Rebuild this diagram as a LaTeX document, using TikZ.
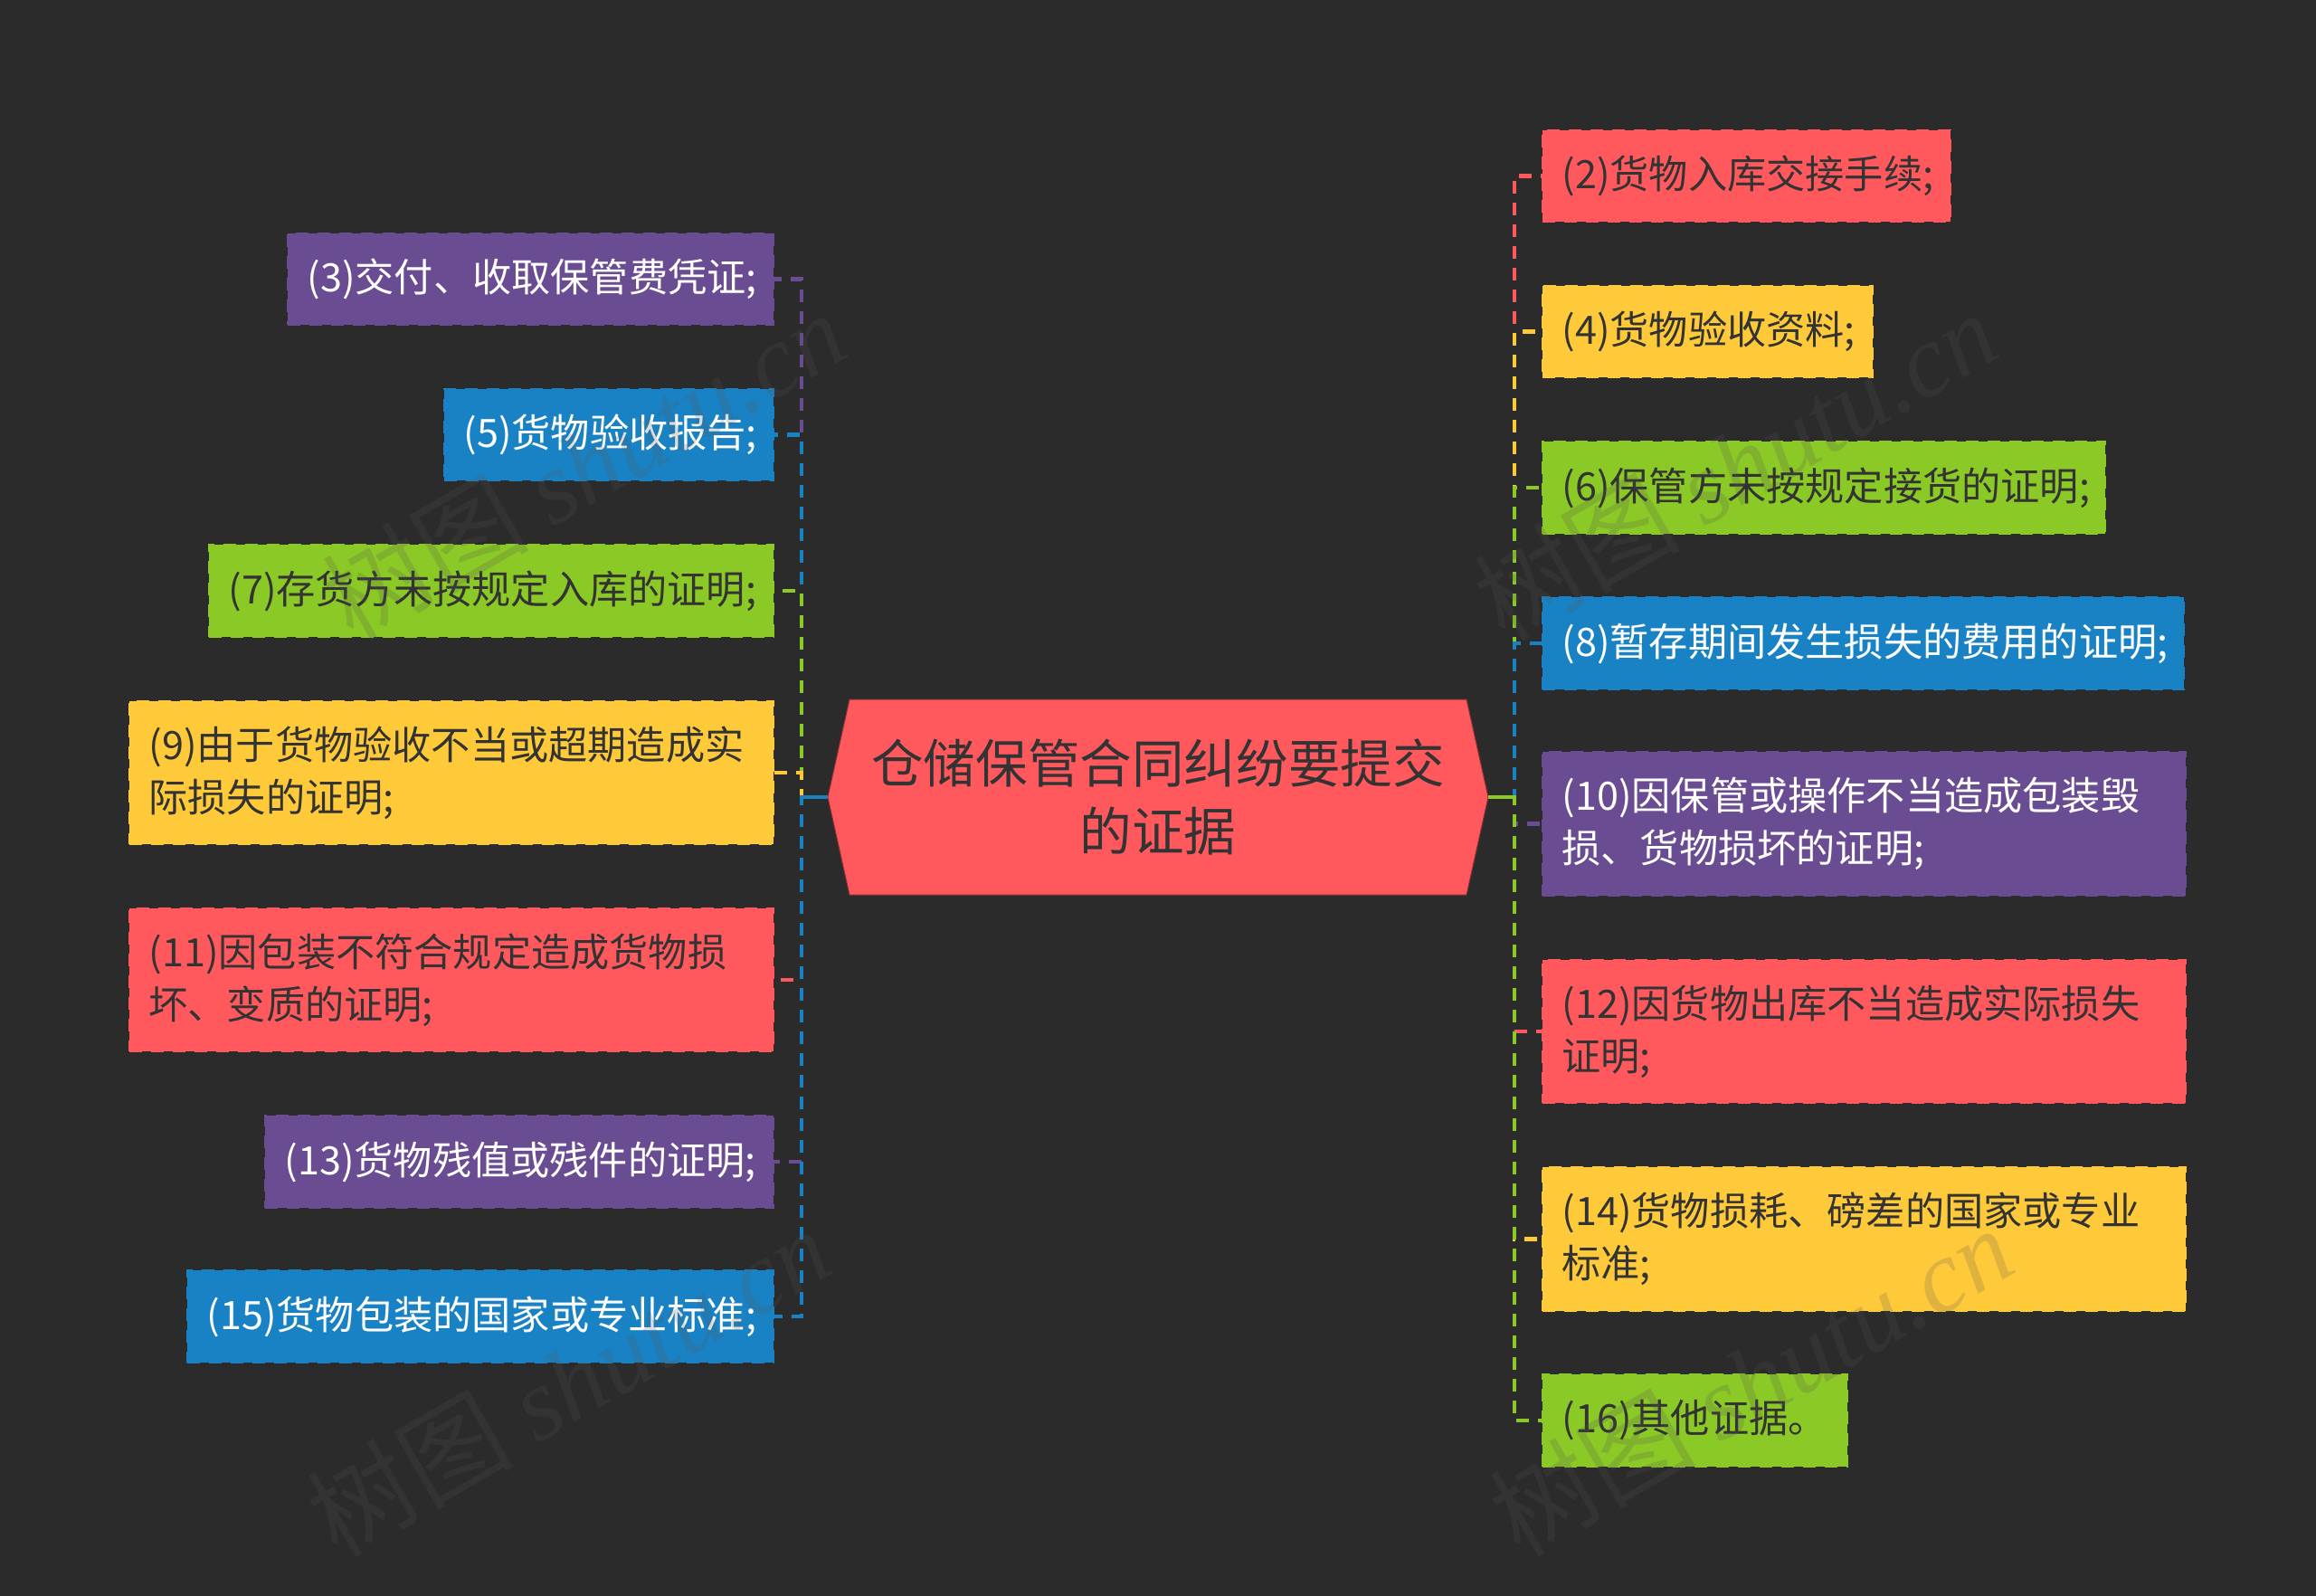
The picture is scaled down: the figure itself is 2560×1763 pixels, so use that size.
\documentclass[tikz,border=0pt]{standalone}
\usepackage{fontspec}
\setmainfont{Noto Sans CJK SC}
\newfontfamily\wmcjk{Noto Sans CJK SC}
\newfontfamily\wmlat{Liberation Serif}[ItalicFont=* Italic]
\usetikzlibrary{backgrounds,calc}
\definecolor{bgc}{HTML}{2B2B2B}
\definecolor{cr}{HTML}{FF595E}
\definecolor{cy}{HTML}{FFCA3A}
\definecolor{cg}{HTML}{8AC926}
\definecolor{cb}{HTML}{1982C4}
\definecolor{cp}{HTML}{6A4C93}
\definecolor{darktxt}{HTML}{333333}
\definecolor{wmc}{HTML}{555555}
\tikzset{
  x=0.5pt,y=-0.5pt,
  itembox/.style={draw=#1,fill=#1,line width=1pt,dash pattern=on 7pt off 5pt,anchor=north west,inner sep=0pt,outer sep=0pt,font=\fontsize{21.6pt}{29pt}\selectfont,align=left},
  darkt/.style={text=darktxt},
  lightt/.style={text=white},
  conn/.style={draw=#1,line width=2.4pt,dash pattern=on 7pt off 5pt},
  stem/.style={draw=#1,line width=2.4pt},
  wm/.style={rotate=30,text=wmc,opacity=0.2,font=\fontsize{57pt}{57pt}\selectfont,anchor=center},
}
\newcommand{\dn}[1]{\raisebox{-0.75pt}{#1}}
% name, colour, text style, x0, y0, x1, y1, text
\newcommand{\itemnode}[8]{%
  \node[itembox=#2,#3,xshift=0.5pt,yshift=-0.5pt,minimum width={(#6-#4-1)*0.5pt},minimum height={(#7-#5)*0.5pt},text width={(#6-#4-44)*0.5pt}] (#1) at (#4,#5) {#8};%
}
\begin{document}
\begin{tikzpicture}
\useasboundingbox (0,0) rectangle (2560,1763);
% root
\node[inner sep=0pt,outer sep=0pt,minimum width=365pt,minimum height=108pt,text=darktxt,align=center,font=\fontsize{28.8pt}{37.5pt}\selectfont] (root) at (1280,881) {仓储保管合同纠纷要提交\\的证据};
\begin{scope}[on background layer]
\fill[bgc] (-10,-10) rectangle (2570,1773);
\filldraw[fill=cr,draw=cr!55!black,line width=0.5pt] (root.west) -- ([xshift=12pt]root.north west) -- ([xshift=-12pt]root.north east) -- (root.east) -- ([xshift=-12pt]root.south east) -- ([xshift=12pt]root.south west) -- cycle;
\end{scope}
% left items
\itemnode{b3}{cp}{lightt}{317}{257}{855}{358}{\dn{(3)交付、收取保管费凭证;}}
\itemnode{b5}{cb}{lightt}{490}{429}{855}{530}{\dn{(5)货物验收报告;}}
\itemnode{b7}{cg}{darkt}{230}{601}{855}{703}{\dn{(7)存货方未按规定入库的证明;}}
\itemnode{b9}{cy}{darkt}{142}{774}{855}{932}{\dn{(9)由于货物验收不当或超期造成实}\\\dn{际损失的证明;}}
\itemnode{b11}{cr}{darkt}{142}{1003}{855}{1161}{\dn{(11)因包装不符合规定造成货物损}\\\dn{坏、变质的证明;}}
\itemnode{b13}{cp}{lightt}{292}{1232}{855}{1334}{\dn{(13)货物残值或残件的证明;}}
\itemnode{b15}{cb}{lightt}{206}{1403}{855}{1505}{\dn{(15)货物包装的国家或专业标准;}}
% right items
\itemnode{b2}{cr}{darkt}{1704}{143}{2156}{244}{\dn{(2)货物入库交接手续;}}
\itemnode{b4}{cy}{darkt}{1704}{315}{2070}{416}{\dn{(4)货物验收资料;}}
\itemnode{b6}{cg}{darkt}{1704}{487}{2327}{589}{\dn{(6)保管方未按规定接货的证明;}}
\itemnode{b8}{cb}{lightt}{1704}{659}{2414}{761}{\dn{(8)暂存期间发生损失的费用的证明;}}
\itemnode{b10}{cp}{lightt}{1704}{830}{2416}{989}{\dn{(10)因保管或操作不当造成包装毁}\\\dn{损、货物损坏的证明;}}
\itemnode{b12}{cr}{darkt}{1704}{1060}{2416}{1218}{\dn{(12)因货物出库不当造成实际损失}\\\dn{证明;}}
\itemnode{b14}{cy}{darkt}{1704}{1289}{2416}{1448}{\dn{(14)货物损耗、磅差的国家或专业}\\\dn{标准;}}
\itemnode{b16}{cg}{darkt}{1704}{1518}{2042}{1620}{\dn{(16)其他证据。}}
% connectors
\coordinate (jl) at (886,881);
\coordinate (jr) at (1674,881);
\draw[conn=cp] (root.west) -- (jl) |- (b3.east);
\draw[conn=cb] (root.west) -- (jl) |- (b5.east);
\draw[conn=cg] (root.west) -- (jl) |- (b7.east);
\draw[conn=cy] (root.west) -- (jl) |- (b9.east);
\draw[conn=cr] (root.west) -- (jl) |- (b11.east);
\draw[conn=cp] (root.west) -- (jl) |- (b13.east);
\draw[conn=cb] (root.west) -- (jl) |- (b15.east);
\draw[stem=cb] (root.west) -- (jl);
\draw[conn=cr] (root.east) -- (jr) |- (b2.west);
\draw[conn=cy] (root.east) -- (jr) |- (b4.west);
\draw[conn=cg] (root.east) -- (jr) |- (b6.west);
\draw[conn=cb] (root.east) -- (jr) |- (b8.west);
\draw[conn=cp] (root.east) -- (jr) |- (b10.west);
\draw[conn=cr] (root.east) -- (jr) |- (b12.west);
\draw[conn=cy] (root.east) -- (jr) |- (b14.west);
\draw[conn=cg] (root.east) -- (jr) |- (b16.west);
\draw[stem=cg] (root.east) -- (jr);
% watermarks
\node[wm] (w1) at (645,514) {{\wmcjk 树图 }{\wmlat\itshape shutu.cn}};
\node[wm] (w2) at (628,1527) {{\wmcjk 树图 }{\wmlat\itshape shutu.cn}};
\node[wm] (w3) at (1918,514) {{\wmcjk 树图 }{\wmlat\itshape shutu.cn}};
\node[wm] (w4) at (1935,1526) {{\wmcjk 树图 }{\wmlat\itshape shutu.cn}};
\end{tikzpicture}
\end{document}
